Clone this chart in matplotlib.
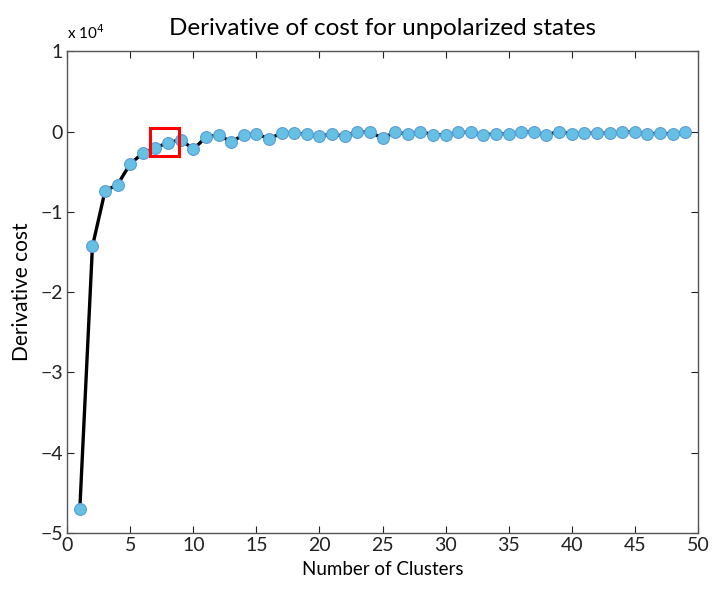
import matplotlib
matplotlib.use("Agg")
import matplotlib.pyplot as plt
from matplotlib.patches import Rectangle

# derivative of cost, in units of 1e4, one value per cluster count
clusters = list(range(1, 50))
deriv_cost = [
    -4.70, -1.43, -0.74, -0.66, -0.40, -0.27, -0.20, -0.14, -0.10, -0.22,
    -0.07, -0.04, -0.13, -0.04, -0.03, -0.09, -0.02, -0.02, -0.03, -0.06,
    -0.03, -0.06, 0.00, -0.01, -0.08, -0.01, -0.03, 0.00, -0.04, -0.04,
    -0.01, -0.01, -0.04, -0.03, -0.03, 0.00, -0.01, -0.04, 0.00, -0.03,
    -0.02, -0.02, -0.02, -0.01, 0.00, -0.03, -0.02, -0.03, -0.01,
]
# clusters marked by the red box
highlight = [7, 8]

x_ticks = [0, 5, 10, 15, 20, 25, 30, 35, 40, 45, 50]
y_ticks = [-5, -4, -3, -2, -1, 0, 1]

plt.rcParams['font.family'] = ['Lato', 'DejaVu Sans']

fig = plt.figure(figsize=(7.15, 5.89), dpi=100)
ax = fig.add_axes([0.094, 0.095, 0.882, 0.818])

ax.plot(clusters, deriv_cost, color='black', linewidth=2.4, zorder=2)
ax.plot(clusters, deriv_cost, linestyle='none', marker='o', markersize=8.5,
        markerfacecolor='#66C0E4', markeredgecolor='#5B9BD5',
        markeredgewidth=0.8, zorder=3)

# red box around highlighted points
hx = [clusters.index(c) for c in highlight]
hy = [deriv_cost[i] for i in hx]
box = Rectangle((min(highlight) - 0.45, min(hy) - 0.11),
                max(highlight) - min(highlight) + 1.3,
                max(hy) - min(hy) + 0.30,
                fill=False, edgecolor='red', linewidth=2.2, zorder=4)
ax.add_patch(box)

ax.set_xlim(0, 50)
ax.set_ylim(-5, 1)
ax.set_xticks(x_ticks)
ax.set_yticks(y_ticks)
ax.tick_params(direction='in', length=5, width=0.8, top=True, right=True,
               labelsize=14, colors='#222222', pad=3)
for sp in ax.spines.values():
    sp.set_color('#555555')
    sp.set_linewidth(1.0)

ax.set_xlabel('Number of Clusters', fontsize=13.5, labelpad=5)
ax.set_ylabel('Derivative cost', fontsize=15, labelpad=6)
ax.set_title('Derivative of cost for unpolarized states', fontsize=17.5, pad=12)
ax.text(0.0, 1.02, r'x 10$^4$', transform=ax.transAxes, fontsize=11,
        ha='left', va='bottom')

plt.savefig('out.png', dpi=100)
plt.close()
